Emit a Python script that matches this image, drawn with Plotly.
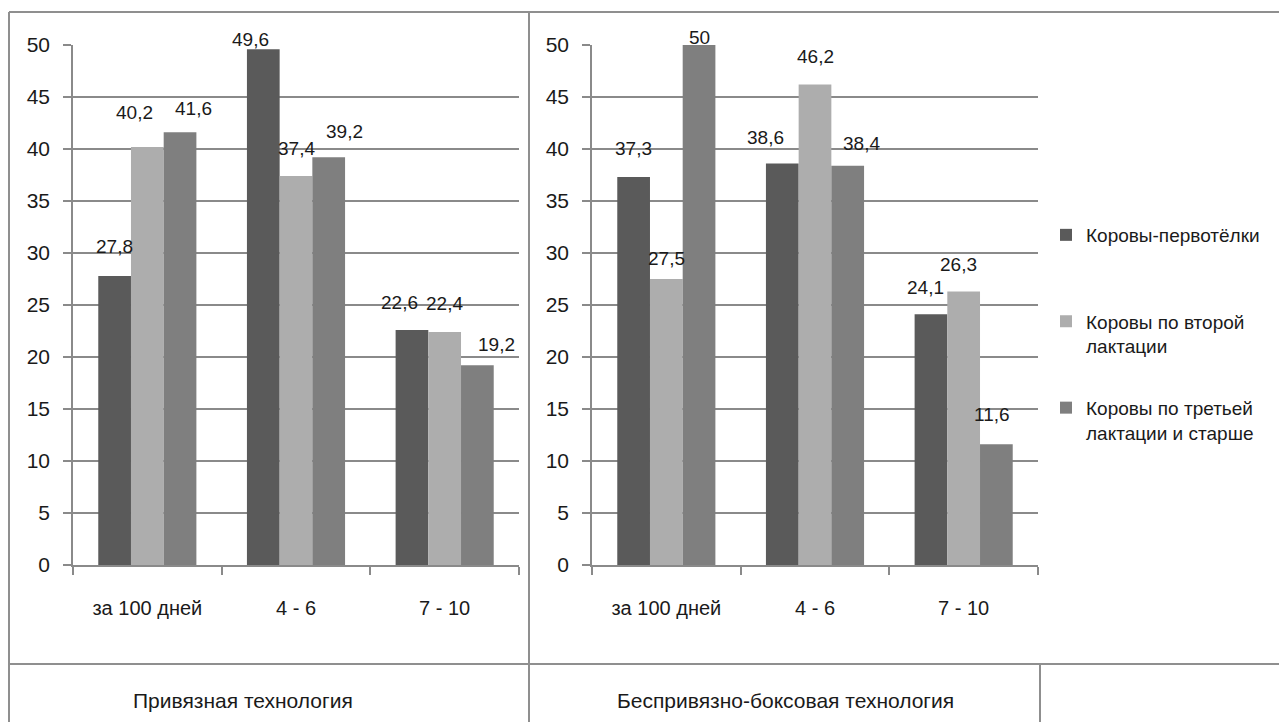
import plotly.graph_objects as go

# ---- data -------------------------------------------------------------
categories = ["за 100 дней", "4 - 6", "7 - 10"]
series_names = [
    "Коровы-первотёлки<br> ",
    "Коровы по второй<br>лактации",
    "Коровы по третьей<br>лактации и старше",
]

# Привязная технология
tied_first = [27.8, 49.6, 22.6]
tied_second = [40.2, 37.4, 22.4]
tied_third = [41.6, 39.2, 19.2]

# Беспривязно-боксовая технология
loose_first = [37.3, 38.6, 24.1]
loose_second = [27.5, 46.2, 26.3]
loose_third = [50.0, 38.4, 11.6]

panel_titles = ["Привязная технология", "Беспривязно-боксовая технология"]
y_ticks = [0, 5, 10, 15, 20, 25, 30, 35, 40, 45, 50]

# ---- styling ----------------------------------------------------------
W, H = 1279, 722
FONT = "Liberation Sans, Arial, sans-serif"
TEXT = "#1a1a1a"
bar_colors = ["#5a5a5a", "#adadad", "#7f7f7f"]
grid_color = "#8a8a8a"
border_color = "#8f8f8f"
BARGAP = 0.34

# label offsets from the top of each bar (pixels): panel / series / category
label_dy = [
    [[29, 10, 27], [34, 28, 29], [24, 26, 21]],
    [[29, 26, 27], [21, 28, 27], [7, 22, 30]],
]
label_dx = [
    [[0, -13, -12], [-13, 0, 0], [13, 16, 19]],
    [[0, -17, -5], [0, 0, -5], [0, 14, -4]],
]


def px(x):
    return x / W


def py(y):
    return 1 - y / H


panels = [
    [tied_first, tied_second, tied_third],
    [loose_first, loose_second, loose_third],
]
x_domains = [[px(73), px(519)], [px(592), px(1038)]]
y_domain = [py(565), py(45)]

fig = go.Figure()

for p, panel in enumerate(panels):
    xa = "x" if p == 0 else "x2"
    ya = "y" if p == 0 else "y2"
    for s, values in enumerate(panel):
        fig.add_trace(
            go.Bar(
                x=categories,
                y=values,
                name=series_names[s],
                marker=dict(color=bar_colors[s], line=dict(width=0)),
                xaxis=xa,
                yaxis=ya,
                showlegend=(p == 0),
                legendgroup=f"g{s}",
                hoverinfo="skip",
            )
        )

# value labels above the bars
cat_px = (519 - 73) / len(categories)
bar_px = cat_px * (1 - BARGAP) / 3
for p, panel in enumerate(panels):
    xa = "x" if p == 0 else "x2"
    ya = "y" if p == 0 else "y2"
    for s, values in enumerate(panel):
        for c, v in enumerate(values):
            fig.add_annotation(
                x=categories[c],
                y=v,
                xref=xa,
                yref=ya,
                text=f"{v:g}".replace(".", ","),
                showarrow=False,
                xshift=(s - 1) * bar_px + label_dx[p][s][c],
                yshift=label_dy[p][s][c],
                yanchor="middle",
                font=dict(family=FONT, size=19, color=TEXT),
            )

xaxis_common = dict(
    type="category",
    showgrid=False,
    showline=True,
    linecolor=grid_color,
    linewidth=1.5,
    ticks="outside",
    tickson="boundaries",
    ticklen=8,
    tickcolor=grid_color,
    tickwidth=1.5,
    tickfont=dict(family=FONT, size=20, color=TEXT),
    ticklabelstandoff=24,
    zeroline=False,
    automargin=False,
    fixedrange=True,
)
yaxis_common = dict(
    range=[0, 50],
    tickvals=y_ticks,
    showgrid=True,
    gridcolor=grid_color,
    gridwidth=1.5,
    showline=True,
    linecolor=grid_color,
    linewidth=1.5,
    ticks="outside",
    ticklen=8,
    tickcolor=grid_color,
    tickwidth=1.5,
    tickfont=dict(family=FONT, size=21, color=TEXT),
    ticklabelstandoff=9,
    zeroline=False,
    automargin=False,
    domain=y_domain,
    fixedrange=True,
)

fig.update_layout(
    template="none",
    width=W,
    height=H,
    autosize=False,
    margin=dict(l=0, r=0, t=0, b=0, pad=0, autoexpand=False),
    paper_bgcolor="white",
    plot_bgcolor="white",
    font=dict(family=FONT, color=TEXT),
    barmode="group",
    bargap=BARGAP,
    bargroupgap=0,
    xaxis=dict(domain=x_domains[0], anchor="y", **xaxis_common),
    xaxis2=dict(domain=x_domains[1], anchor="y2", **xaxis_common),
    yaxis=dict(anchor="x", **yaxis_common),
    yaxis2=dict(anchor="x2", **yaxis_common),
    legend=dict(
        x=px(1046),
        y=py(216),
        xanchor="left",
        yanchor="top",
        valign="top",
        tracegroupgap=34,
        font=dict(family=FONT, size=19, color=TEXT),
        bgcolor="rgba(0,0,0,0)",
        borderwidth=0,
    ),
    showlegend=True,
)

# table frame around the two charts
frame = [
    (9, 12, W, 12),      # top edge
    (9, 12, 9, H),       # left edge
    (529, 12, 529, H),   # divider between panels
    (9, 664, W, 664),    # caption row separator
    (1040, 664, 1040, H),
]
for x0, y0, x1, y1 in frame:
    fig.add_shape(
        type="line",
        xref="paper",
        yref="paper",
        x0=px(x0),
        y0=py(y0),
        x1=px(x1),
        y1=py(y1),
        line=dict(color=border_color, width=2),
    )

# captions in the bottom row
for cx, title in zip([243, 785], panel_titles):
    fig.add_annotation(
        x=px(cx),
        y=py(700),
        xref="paper",
        yref="paper",
        text=title,
        showarrow=False,
        xanchor="center",
        yanchor="middle",
        font=dict(family=FONT, size=21, color=TEXT),
    )

fig.write_html("out.html")
